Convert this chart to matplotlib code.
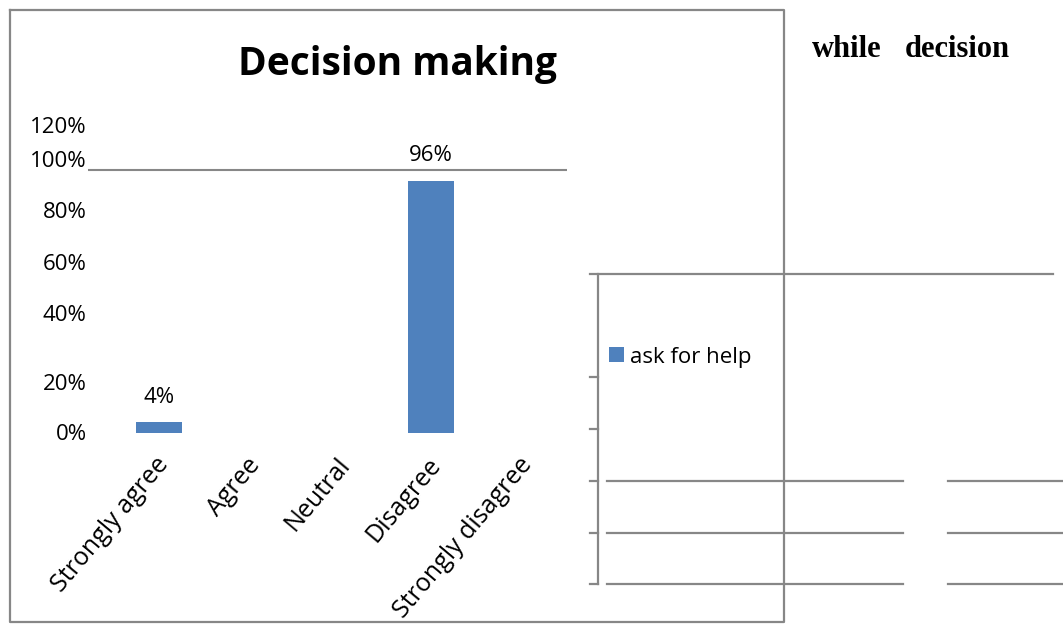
import matplotlib
matplotlib.use("Agg")
import matplotlib.pyplot as plt
import matplotlib.transforms as mtransforms
from matplotlib.lines import Line2D

# chart data
categories = ['Strongly agree', 'Agree', 'Neutral', 'Disagree', 'Strongly disagree']
values = [4, 0, 0, 96, 0]
series_name = 'ask for help'
y_labels = ['0%', '20%', '40%', '60%', '80%', '100%', '120%']
title = 'Decision making'

# the scanned axis labels sit a little off their true values
y_label_pos = [0.4, 19.4, 45.6, 65.0, 84.8, 104.2, 117.1]

W, H = 1063, 630
plt.rcParams['font.family'] = ['Open Sans', 'DejaVu Sans']

fig = plt.figure(figsize=(W / 100, H / 100), dpi=100)

def fx(x):
    return x / W

def fy(y):
    return 1 - y / H

grey = '#878787'
fs = 16

# bar chart
ax = fig.add_axes([fx(88), fy(433), fx(567) - fx(88), (433 - 117.4) / H])
ax.set_xlim(-0.78, 4.5)
ax.set_ylim(0, 120)
for s in ax.spines.values():
    s.set_visible(False)

bars = ax.bar(range(len(categories)), values, width=0.51, color='#4F81BD', label=series_name)
ax.axhline(100, color=grey, lw=1.5, zorder=0)

for i, v in enumerate(values):
    if v > 0:
        ax.annotate(f'{v}%', (i, v), xytext=(0, 18), textcoords='offset points',
                    ha='center', va='center', fontsize=fs)

ax.set_yticks(y_label_pos)
ax.set_yticklabels(y_labels, fontsize=fs)
ax.tick_params(axis='y', length=0, pad=1)

ax.set_xticks(range(len(categories)))
ax.set_xticklabels(categories, fontsize=18, rotation=50, ha='right', va='center',
                   rotation_mode='anchor')
ax.tick_params(axis='x', length=0, pad=20)
shift = mtransforms.ScaledTranslation(6 / 100, 0, fig.dpi_scale_trans)
for lbl in ax.get_xticklabels():
    lbl.set_transform(lbl.get_transform() + shift)

fig.text(fx(397), fy(64), title, ha='center', va='center', fontsize=28, fontweight='bold')

ax.legend(handles=[bars], loc='center left', bbox_to_anchor=(fx(609), fy(357)),
          bbox_transform=fig.transFigure, frameon=False, fontsize=fs,
          handlelength=0.68, handleheight=0.68, handletextpad=0.25,
          borderpad=0, borderaxespad=0)

# outer chart frame and the leftover lines of the page
def line(xs, ys, lw=1.6):
    fig.add_artist(Line2D([fx(x) for x in xs], [fy(y) for y in ys],
                          transform=fig.transFigure, color=grey, lw=lw))

line([10, 784, 784, 10, 10], [10, 10, 622, 622, 10])
line([590, 1053], [274, 274])
line([598, 598], [274, 584])
for y in [377, 429, 481, 533, 584]:
    line([590, 598], [y, y])
for y in [481, 533, 584]:
    line([607, 903], [y, y])
    line([948, 1063], [y, y])

fig.text(fx(812), fy(57), 'while', ha='left', va='baseline', fontsize=22,
         fontweight='bold', family='Liberation Serif')
fig.text(fx(905), fy(57), 'decision', ha='left', va='baseline', fontsize=22,
         fontweight='bold', family='Liberation Serif')

fig.savefig('out.png', dpi=100)
